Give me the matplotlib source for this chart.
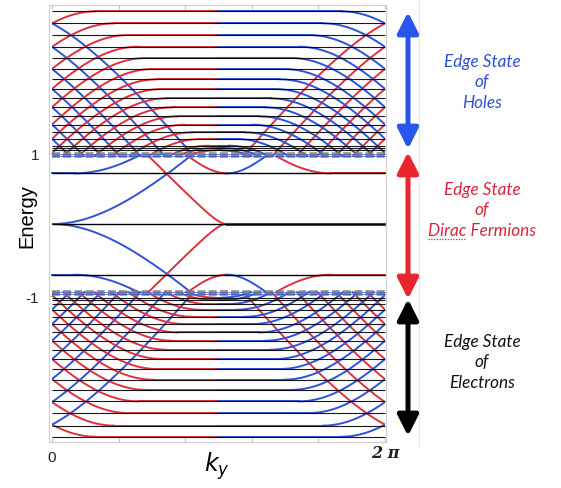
import numpy as np
import matplotlib.pyplot as plt
from matplotlib.patches import FancyArrowPatch, Rectangle
from matplotlib.lines import Line2D

TWO_PI = 2 * np.pi
RED = '#e0303f'
BLUE = '#2f52d6'

# Landau levels (hole band on top, electron band below)
hole_levels = [2.975, 2.807, 2.643, 2.480, 2.322, 2.168, 2.024, 1.888,
               1.758, 1.632, 1.506, 1.389, 1.282, 1.189, 1.095, 1.06, 1.03]
electron_levels = [-2.975, -2.82, -2.643, -2.48, -2.32, -2.177, -2.028, -1.888,
                   -1.758, -1.632, -1.515, -1.399, -1.297, -1.199, -1.119, -1.06, -1.03]
# ky where the edge branch of each level leaves its flat part (left side)
flat_start = [0.82, 1.17, 1.43, 1.62, 1.77, 1.90, 1.98, 2.07,
              2.16, 2.26, 2.37, 2.50, 2.64, 2.80, 2.95, 3.02, 3.08]

# Dirac Landau levels and the dense van Hove band
dirac_levels = [0.709, 0.0, -0.709]
bead_levels = [0.975, 0.945, -0.945, -0.975]

# Dirac edge branches (upper half, mirrored to E < 0)
dirac_k0 = [TWO_PI, 3.30, 0.43, 5.25, 3.30, 3.30]
dirac_e0 = [0.0, 0.0, 0.709, 0.709, 0.709, 0.709]
dirac_side = [1, -1, 1, -1, -1, 1]
dirac_width = [2.02, 0.21, 2.02, 1.43, 0.66, 0.66]
dirac_color = [BLUE, RED, BLUE, RED, RED, BLUE]
# flat parts of the Dirac levels
dflat_k0 = [3.30, 0.0, 5.25]
dflat_k1 = [TWO_PI, 0.43, TWO_PI]
dflat_e = [0.0, 0.709, 0.709]
dflat_color = [BLUE, BLUE, RED]

EDGE_SLOPE, EDGE_WIDTH = 0.95, 1.8
DIRAC_SLOPE = 0.741
STOP = 0.95

fig = plt.figure(figsize=(5.61, 4.89), dpi=100)
ax = fig.add_axes([49 / 561, 1 - 443.3 / 489, 337 / 561, 437.3 / 489])
clip = Rectangle((0, -4), TWO_PI, 8, transform=ax.transData)


def edge_branch(k0, e0, side, sign, slope, width, stop, color, lw=1.4):
    d = np.linspace(0, TWO_PI, 1500)
    e = e0 + sign * slope * (np.sqrt(d ** 2 + width ** 2) - width)
    keep = sign * (e - stop) <= 0
    k = k0 + side * d[keep]
    for shift in (-TWO_PI, 0, TWO_PI):
        ln, = ax.plot(k + shift, e[keep], color=color, lw=lw, zorder=2)
        ln.set_clip_path(clip)


# hole and electron bands: each level is a dome with two edge branches
for levels, sign, stop in ((hole_levels, -1, STOP), (electron_levels, 1, -STOP)):
    for lev, kp in zip(levels, flat_start):
        ax.plot([kp, np.pi], [lev, lev], color=RED, lw=1.4, zorder=2)
        ax.plot([np.pi, TWO_PI - kp], [lev, lev], color=BLUE, lw=1.4, zorder=2)
        edge_branch(kp, lev, -1, sign, EDGE_SLOPE, EDGE_WIDTH, stop, RED)
        edge_branch(TWO_PI - kp, lev, 1, sign, EDGE_SLOPE, EDGE_WIDTH, stop, BLUE)
    ax.hlines(levels, 0, TWO_PI, colors='k', lw=0.8, alpha=0.9, zorder=3)

# Dirac region
for mirror in (1, -1):
    for k0, e0, side, w, c in zip(dirac_k0, dirac_e0, dirac_side, dirac_width, dirac_color):
        edge_branch(k0, mirror * e0, side, mirror, DIRAC_SLOPE, w, mirror * STOP, c)
    for k0, k1, e, c in zip(dflat_k0, dflat_k1, dflat_e, dflat_color):
        lw = 2.2 if e == 0 else 1.4
        ax.plot([k0, k1], [mirror * e, mirror * e], color=c, lw=lw, zorder=2)
ax.hlines(dirac_levels, 0, TWO_PI, colors='k', lw=1.0, zorder=3)

# dense band near +-1
for e in bead_levels:
    ax.plot([0, TWO_PI], [e, e], color='#767c88', lw=2.6, dashes=(2.2, 0.9), alpha=0.85, zorder=4)
    ax.plot([0, TWO_PI], [e, e], color=BLUE, lw=0.7, alpha=0.7, zorder=4)

ax.set_xlim(-0.057, 6.302)
ax.set_ylim(-3.053, 3.063)
for sp in ax.spines.values():
    sp.set_color('#cfcfcf')
    sp.set_linewidth(0.8)
ax.set_xticks(np.linspace(0, TWO_PI, 6))
ax.set_yticks([-1, 1])
ax.tick_params(direction='in', length=3, color='#bbbbbb', top=True,
               labelbottom=False, labelleft=False)

tick_font = dict(family='Liberation Sans', fontsize=11, color='#222222')
ax.annotate('0', xy=(0, 0), xycoords=('data', 'axes fraction'), xytext=(0, -10.8),
            textcoords='offset points', ha='center', va='center', **tick_font)
ax.annotate('2 π', xy=(TWO_PI, 0), xycoords=('data', 'axes fraction'), xytext=(0, -7.2),
            textcoords='offset points', ha='center', va='center',
            family='DejaVu Serif', style='italic', fontweight='bold', fontsize=11.5, color='#222222')
for v, lab in ((1, '1'), (-1, '-1')):
    ax.annotate(lab, xy=(0, v), xycoords=('axes fraction', 'data'), xytext=(-7, -1.8),
                textcoords='offset points', ha='right', va='center', **tick_font)

fig.text(27 / 561, 1 - 216 / 489, 'Energy', rotation=90, ha='center', va='center',
         family='Liberation Sans', fontsize=14.5)
fig.text(217 / 561, 1 - 466 / 489, r'$k_y$', ha='center', va='center', fontsize=17)

# arrows on the right
arrow_x = 408 / 561
for y0, y1, c in ((13, 150, '#2a55ea'), (153, 300, '#ea2530'), (300, 437, 'black')):
    arr = FancyArrowPatch((arrow_x, 1 - y0 / 489), (arrow_x, 1 - y1 / 489),
                          transform=fig.transFigure, color=c, lw=3.6,
                          arrowstyle='<|-|>,head_length=12.5,head_width=6.3',
                          shrinkA=0, shrinkB=0)
    fig.add_artist(arr)

fig.add_artist(Line2D([419 / 561] * 2, [1, 1 - 447 / 489], color='#e6e6e6', lw=0.8))

label_font = dict(family='Lato', style='italic', fontsize=12.3, ha='center', va='center')
tx = 482 / 561
for lines, ys, c in ((['Edge State', 'of', 'Holes'], [62, 82, 103], '#2e4fd6'),
                     (['Edge State', 'of', 'Dirac Fermions'], [190, 210, 231], '#d9263f'),
                     (['Edge State', 'of', 'Electrons'], [342, 362, 383], '#111111')):
    for s, y in zip(lines, ys):
        t = fig.text(tx, 1 - y / 489, s, color=c, **label_font)
        if s == 'Dirac Fermions':
            dirac_text = t

# dotted underline below "Dirac"
fig.canvas.draw()
r = fig.canvas.get_renderer()
bb = dirac_text.get_window_extent(r)
probe = fig.text(0, 0, 'Dirac', color='none', **label_font)
wd = probe.get_window_extent(r).width
probe.remove()
uy = bb.y0 - 1
fig.add_artist(Line2D([bb.x0 / 561, (bb.x0 + wd) / 561], [uy / 489, uy / 489],
                      color='#d9263f', lw=0.9, ls=(0, (1, 1.2))))

fig.savefig('out.png', dpi=100)
